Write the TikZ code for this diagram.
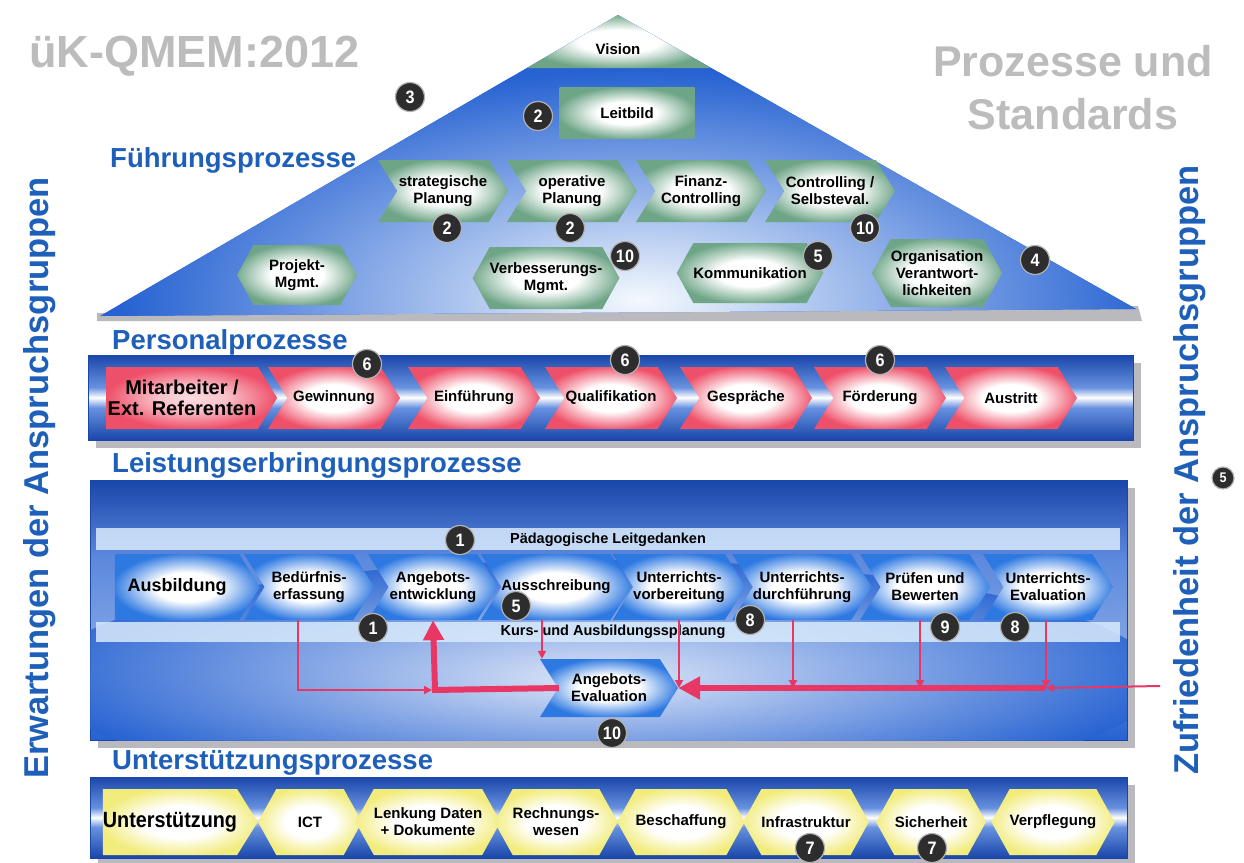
\documentclass[tikz,border=0pt]{standalone}
\usepackage{fontspec}
\setmainfont{Liberation Sans}
\newfontfamily\nar[FakeStretch=0.9]{Liberation Sans}
\usetikzlibrary{shapes.symbols,arrows.meta,calc}
\definecolor{bandblue}{RGB}{38,98,210}
\definecolor{darkband}{RGB}{25,70,170}
\definecolor{lightb}{RGB}{200,225,250}
\definecolor{labblue}{RGB}{30,95,185}
\definecolor{grn}{RGB}{110,165,135}
\definecolor{rd}{RGB}{238,80,105}
\definecolor{ylw}{RGB}{242,236,125}
\definecolor{chb}{RGB}{45,120,225}
\definecolor{arr}{RGB}{232,55,100}
\definecolor{badgec}{RGB}{45,45,45}
\definecolor{ttl}{RGB}{188,188,188}
\definecolor{shadowc}{RGB}{185,185,190}
\pgfdeclareradialshading{glowg}{\pgfpointorigin}{color(0bp)=(white); color(11bp)=(white); color(26bp)=(grn); color(50bp)=(grn)}
\pgfdeclareradialshading{glowr}{\pgfpointorigin}{color(0bp)=(white); color(11bp)=(white); color(26bp)=(rd); color(50bp)=(rd)}
\pgfdeclareradialshading{glowrr}{\pgfpointorigin}{color(0bp)=(rd!20!white); color(10bp)=(rd!35!white); color(25bp)=(rd); color(50bp)=(rd)}
\pgfdeclareradialshading{glowy}{\pgfpointorigin}{color(0bp)=(white); color(12bp)=(white); color(26bp)=(ylw); color(50bp)=(ylw)}
\pgfdeclareradialshading{glowb}{\pgfpointorigin}{color(0bp)=(white); color(11bp)=(white); color(26bp)=(chb); color(50bp)=(chb)}
\pgfdeclareverticalshading{bandsh}{100bp}{color(0bp)=(darkband); color(25bp)=(darkband); color(44bp)=(bandblue!70!white); color(50bp)=(white); color(56bp)=(bandblue!70!white); color(75bp)=(darkband); color(100bp)=(darkband)}
\pgfdeclareverticalshading{bandL}{100bp}{color(0bp)=(bandblue); color(25bp)=(bandblue); color(45bp)=(bandblue!60!white); color(60bp)=(bandblue!75!white); color(75bp)=(darkband); color(100bp)=(darkband)}
\begin{document}
\begin{tikzpicture}[x=1pt,y=-1pt,
  base/.style={align=center, inner sep=0pt, text=black, font=\bfseries\fontsize{15}{17}\selectfont},
  chev/.style={base, shape=signal, signal to=east, signal from=west, signal pointer angle=116, shade},
  penta/.style={base, shape=signal, signal to=east, signal pointer angle=116, shade},
  hexa/.style={base, shape=signal, signal to=east and west, signal pointer angle=122, shade},
  badge/.style={circle, fill=badgec, draw=gray!60, line width=1.2pt, text=white, font=\nar\bfseries\fontsize{18}{18}\selectfont, minimum size=29pt, inner sep=0pt},
  lab/.style={anchor=west, text=labblue, font=\bfseries\fontsize{27.5}{27.5}\selectfont, inner sep=0pt},
  side/.style={rotate=90, text=labblue, font=\bfseries\fontsize{34.5}{34.5}\selectfont, inner sep=0pt},
  txt/.style={inner sep=0pt, text=black, font=\bfseries\fontsize{14.5}{16}\selectfont},
  thinarr/.style={draw=arr, line width=2pt, -{Triangle[length=8pt,width=8pt]}},
  fatline/.style={draw=arr, line width=6pt},
]
\useasboundingbox (0,0) rectangle (1244,862);
\fill[white] (0,0) rectangle (1244,862);

% titles
\node[anchor=west, inner sep=0pt, text=ttl, font=\bfseries\fontsize{45}{45}\selectfont] (t1) at (29,56) {üK-QMEM:2012};
\node[align=center, inner sep=0pt, text=ttl, font=\bfseries\fontsize{43}{53}\selectfont] (t2) at (1073,88) {Prozesse und\\Standards};

% side labels
\node[side] (erw) at (40,478) {Erwartungen der Anspruchsgruppen};
\node[side] (zuf) at (1190,470) {Zufriedenheit der Anspruchsgruppen};

% ===== Fuehrungsprozesse triangle
\fill[shadowc] (97,313) -- (1138,306) -- (1142,321) -- (97,321) -- cycle;
\begin{scope}
 \clip (100,316) -- (618,15) -- (1136,309) -- cycle;
 \fill[bandblue] (90,10) rectangle (1140,320);
 \shade[inner color=white!80!lightb, outer color=bandblue] (640,300) ellipse (520 and 230);
 \shade[shading=glowg] (618,15) -- (711,68) -- (527,68) -- cycle;
\end{scope}
\node[lab] (labF) at (110,160) {Führungsprozesse};
\node[base] (vision) at (618,49) {Vision};
\node[base, shade, shading=glowg, minimum width=135pt, minimum height=51pt] (leit) at (627,113) {Leitbild};
\node[chev, shading=glowg, minimum width=130pt, minimum height=62pt] (sp) at (443,191) {strategische\\Planung};
\node[chev, shading=glowg, minimum width=130pt, minimum height=62pt] (op) at (572,191) {operative\\Planung};
\node[chev, shading=glowg, minimum width=130pt, minimum height=62pt] (fc) at (701,191) {Finanz-\\Controlling};
\node[chev, shading=glowg, minimum width=130pt, minimum height=62pt] (cs) at (830,191) {Controlling /\\Selbsteval.};
\node[hexa, shading=glowg, minimum width=120pt, minimum height=60pt] (pm) at (297,275) {Projekt-\\Mgmt.};
\node[hexa, shading=glowg, minimum width=120pt, minimum height=62pt] (vm) at (546,278) {Verbesserungs-\\Mgmt.};
\node[hexa, shading=glowg, minimum width=122pt, minimum height=60pt] (kom) at (750,273) {Kommunikation};
\node[hexa, shading=glowg, minimum width=118pt, minimum height=68pt] (org) at (937,273) {Organisation\\Verantwort-\\lichkeiten};
\node[badge] (b3) at (410,97) {3};
\node[badge] (b2a) at (538,116) {2};
\node[badge] (b2b) at (447,228) {2};
\node[badge] (b2c) at (570,228) {2};
\node[badge] (b10a) at (865,228) {10};
\node[badge] (b10b) at (625,256) {10};
\node[badge] (b5a) at (818,256) {5};
\node[badge] (b4) at (1035,260) {4};

% ===== Personalprozesse
\node[lab] (labP) at (112,342) {Personalprozesse};
\fill[shadowc] (96,363) rectangle (1141,448);
\shade[shading=bandsh, draw=darkband, line width=1pt] (88,355) rectangle (1133,440);
\node[penta, shading=glowrr, minimum width=171pt, minimum height=62pt, font=\bfseries\fontsize{20}{21}\selectfont] (ma) at (182,398) {Mitarbeiter /\\Ext. Referenten};
\node[chev, shading=glowr, minimum width=132pt, minimum height=62pt] (gw) at (334,398) {Gewinnung};
\node[chev, shading=glowr, minimum width=132pt, minimum height=62pt] (ef) at (474,398) {Einführung};
\node[chev, shading=glowr, minimum width=132pt, minimum height=62pt] (ql) at (611,398) {Qualifikation};
\node[chev, shading=glowr, minimum width=132pt, minimum height=62pt] (gs) at (746,398) {Gespräche};
\node[chev, shading=glowr, minimum width=132pt, minimum height=62pt] (fd) at (880,398) {Förderung};
\node[chev, shading=glowr, minimum width=132pt, minimum height=62pt] (au) at (1011,398) {Austritt};
\node[badge] (b6a) at (367,364) {6};
\node[badge] (b6b) at (625,360) {6};
\node[badge] (b6c) at (880,360) {6};

% ===== Leistungserbringungsprozesse
\node[lab] (labL) at (112,465) {Leistungserbringungsprozesse};
\fill[shadowc] (98,488) rectangle (1135,748);
\shade[shading=bandL, draw=darkband, line width=1pt] (90,480) rectangle (1127,740);
\begin{scope}
 \clip (90,480) rectangle (1127,740);
 \shade[inner color=white, outer color=bandblue, opacity=0.8] (600,680) ellipse (560 and 120);
\end{scope}
\fill[lightb!70!white, opacity=0.85] (96,528) rectangle (1120,550);
\fill[lightb!70!white, opacity=0.85] (96,622) rectangle (1120,642);
\node[txt] (ped) at (608,540) {Pädagogische Leitgedanken};
\node[txt] (kurs) at (613,632) {Kurs- und Ausbildungssplanung};
\node[penta, shading=glowb, minimum width=145pt, minimum height=66pt, font=\bfseries\fontsize{18}{20}\selectfont] (ausb) at (177,587) {Ausbildung};
\node[chev, shading=glowb, minimum width=130pt, minimum height=66pt] (bed) at (309,587) {Bedürfnis-\\erfassung};
\node[chev, shading=glowb, minimum width=130pt, minimum height=66pt] (ang) at (433,587) {Angebots-\\entwicklung};
\node[chev, shading=glowb, minimum width=130pt, minimum height=66pt] (aus) at (556,587) {Ausschreibung};
\node[chev, shading=glowb, minimum width=130pt, minimum height=66pt] (uv) at (679,587) {Unterrichts-\\vorbereitung};
\node[chev, shading=glowb, minimum width=130pt, minimum height=66pt] (ud) at (802,587) {Unterrichts-\\durchführung};
\node[chev, shading=glowb, minimum width=130pt, minimum height=66pt] (pb) at (925,587) {Prüfen und\\Bewerten};
\node[chev, shading=glowb, minimum width=130pt, minimum height=66pt] (ue) at (1048,587) {Unterrichts-\\Evaluation};
\node[chev, shading=glowb, minimum width=138pt, minimum height=58pt] (aeval) at (609,688) {Angebots-\\Evaluation};

\coordinate (j1) at (435,690);
\coordinate (j2) at (1046,688);
\coordinate (ext) at (1160,686);
\draw[thinarr] ([xshift=-11pt]bed.south) |- ([xshift=-3pt]j1);
\draw[fatline] ([xshift=-50pt]aeval.center) -- ([xshift=-3pt]j1);
\draw[fatline, -{Triangle[length=20pt,width=20pt]}] (j1) -- (ang.south);
\draw[thinarr] ([xshift=-14pt]aus.south) -- ([xshift=-14pt]aus.south |- aeval.north);
\draw[fatline, -{Triangle[length=22pt,width=22pt]}] (j2) -- (aeval.east);
\draw[thinarr] (uv.south) -- (uv.south |- j2);
\draw[thinarr] ([xshift=-9pt]ud.south) -- ([xshift=-9pt]ud.south |- j2);
\draw[thinarr] ([xshift=-5pt]pb.south) -- ([xshift=-5pt]pb.south |- j2);
\draw[thinarr] ([xshift=-2pt]ue.south) -- (j2);
\draw[thinarr] (ext) -- (j2);

\node[badge] (b1a) at (460,540) {1};
\node[badge] (b1b) at (373,628) {1};
\node[badge] (b5b) at (516,606) {5};
\node[badge] (b8a) at (750,620) {8};
\node[badge] (b9) at (945,627) {9};
\node[badge] (b8b) at (1015,627) {8};
\node[badge] (b10c) at (612,733) {10};

% ===== Unterstuetzungsprozesse
\node[lab] (labU) at (112,763) {Unterstützungsprozesse};
\fill[shadowc] (98,785) rectangle (1135,866);
\shade[shading=bandsh, draw=darkband, line width=1pt] (90,777) rectangle (1127,858);
\node[penta, shading=glowy, minimum width=145pt, minimum height=66pt, font=\nar\bfseries\fontsize{22}{24}\selectfont] (ust) at (170,822) {Unterstützung};
\node[hexa, shading=glowy, minimum width=104pt, minimum height=66pt] (ict) at (310,822) {ICT};
\node[hexa, shading=glowy, minimum width=108pt, minimum height=66pt] (ld) at (428,822) {Lenkung Daten\\+ Dokumente};
\node[hexa, shading=glowy, minimum width=108pt, minimum height=66pt] (rw) at (556,822) {Rechnungs-\\wesen};
\node[hexa, shading=glowy, minimum width=110pt, minimum height=66pt] (bs) at (681,822) {Beschaffung};
\node[hexa, shading=glowy, minimum width=110pt, minimum height=66pt] (inf) at (806,822) {Infrastruktur};
\node[hexa, shading=glowy, minimum width=110pt, minimum height=66pt] (sh) at (931,822) {Sicherheit};
\node[hexa, shading=glowy, minimum width=112pt, minimum height=66pt] (vp) at (1053,822) {Verpflegung};
\node[badge] (b7a) at (810,848) {7};
\node[badge] (b7b) at (932,848) {7};

\node[badge, minimum size=22pt, font=\nar\bfseries\fontsize{14}{14}\selectfont] (b5c) at (1223,478) {5};
\end{tikzpicture}
\end{document}
